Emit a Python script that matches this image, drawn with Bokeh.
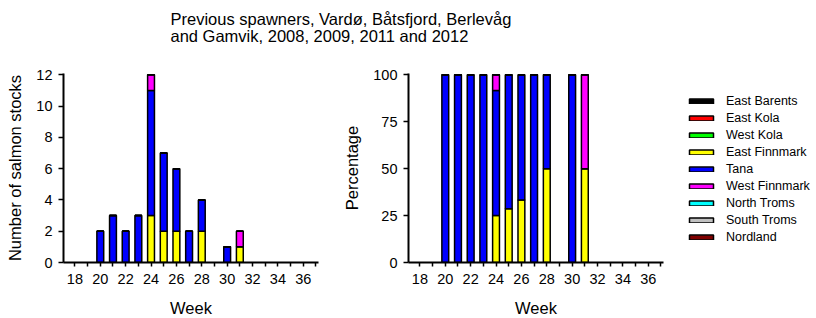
from bokeh.plotting import figure
from bokeh.models import FixedTicker, Label, Legend, LegendItem, Range1d, ColumnDataSource
from bokeh.layouts import column, row
from bokeh.embed import file_html
from bokeh.resources import INLINE

# ---- data ----
weeks = [20, 21, 22, 23, 24, 25, 26, 27, 28, 30, 31]
regions = ["East Barents", "East Kola", "West Kola", "East Finnmark", "Tana",
           "West Finnmark", "North Troms", "South Troms", "Nordland"]
colors = ["#000000", "#FF0000", "#00FF00", "#FFFF00", "#0000FF",
          "#FF00FF", "#00FFFF", "#C0C0C0", "#800000"]

east_barents = [0] * 11
east_kola = [0] * 11
west_kola = [0] * 11
east_finnmark = [0, 0, 0, 0, 3, 2, 2, 0, 2, 0, 1]
tana = [2, 3, 2, 3, 8, 5, 4, 2, 2, 1, 0]
west_finnmark = [0, 0, 0, 0, 1, 0, 0, 0, 0, 0, 1]
north_troms = [0] * 11
south_troms = [0] * 11
nordland = [0] * 11

east_finnmark_pct = [0, 0, 0, 0, 25, 28.6, 33.3, 0, 50, 0, 50]
tana_pct = [100, 100, 100, 100, 66.7, 71.4, 66.7, 100, 50, 100, 0]
west_finnmark_pct = [0, 0, 0, 0, 8.3, 0, 0, 0, 0, 0, 50]

count_series = [east_barents, east_kola, west_kola, east_finnmark, tana,
                west_finnmark, north_troms, south_troms, nordland]
pct_series = [east_barents, east_kola, west_kola, east_finnmark_pct, tana_pct,
              west_finnmark_pct, north_troms, south_troms, nordland]

x_ticks = list(range(18, 37, 2))
x_minor = list(range(19, 38, 2))
count_ticks = [0, 2, 4, 6, 8, 10, 12]
pct_ticks = [0, 25, 50, 75, 100]

title_lines = ["Previous spawners, Vardø, Båtsfjord, Berlevåg",
               "and Gamvik, 2008, 2009, 2011 and 2012"]

FONT = "Liberation Sans"
keys = ["r%d" % i for i in range(len(regions))]

TITLE_H = 45
TOP, FRAME_H, BOTTOM = 28, 189, 56


def make_fig(series, ymax, yticks, ylabel, border_left, border_right):
    p = figure(frame_width=255, frame_height=FRAME_H,
               x_range=Range1d(17.1, 37.2), y_range=Range1d(0, ymax),
               output_backend="svg", toolbar_location=None,
               min_border_left=border_left, min_border_right=border_right,
               min_border_top=TOP, min_border_bottom=BOTTOM)
    data = {"week": weeks}
    for k, s in zip(keys, series):
        data[k] = s
    src = ColumnDataSource(data)
    rends = p.vbar_stack(keys, x="week", width=0.54, source=src,
                         fill_color=colors, line_color="black", line_width=1.5)
    p.grid.visible = False
    p.outline_line_color = None
    for ax in (p.xaxis[0], p.yaxis[0]):
        ax.axis_line_width = 2
        ax.axis_line_color = "black"
        ax.major_tick_line_width = 1.5
        ax.minor_tick_line_width = 1.5
        ax.major_tick_line_color = "black"
        ax.minor_tick_line_color = "black"
        ax.major_tick_in = 0
        ax.minor_tick_in = 0
        ax.major_label_text_font = FONT
        ax.major_label_text_font_size = "14.5px"
        ax.major_label_text_color = "black"
        ax.axis_label_text_font = FONT
        ax.axis_label_text_font_size = "16.5px"
        ax.axis_label_text_font_style = "normal"
        ax.axis_label_text_color = "black"
    xa = p.xaxis[0]
    xa.ticker = FixedTicker(ticks=x_ticks, minor_ticks=x_minor)
    xa.major_tick_out = 4
    xa.minor_tick_out = 4
    xa.major_label_standoff = 7
    xa.axis_label = "Week"
    xa.axis_label_standoff = 12
    ya = p.yaxis[0]
    ya.ticker = FixedTicker(ticks=yticks)
    ya.major_tick_out = 5
    ya.minor_tick_out = 0
    ya.major_label_standoff = 6
    ya.axis_label = ylabel
    ya.axis_label_standoff = 9
    return p, rends


left, _ = make_fig(count_series, 12.08, count_ticks, "Number of salmon stocks", 63, 22)
right, rends = make_fig(pct_series, 100.7, pct_ticks, "Percentage", 68, 146)

legend = Legend(items=[LegendItem(label=n, renderers=[r]) for n, r in zip(regions, rends)],
                location=(23, 18), glyph_width=30, glyph_height=6,
                label_standoff=10, label_height=13, spacing=3, padding=0, margin=0,
                label_text_font=FONT, label_text_font_size="12.5px",
                label_text_color="black",
                background_fill_alpha=0, border_line_color=None)
right.add_layout(legend, "right")

TOTAL_W = 63 + 255 + 22 + 68 + 255 + 146
title_fig = figure(width=TOTAL_W, height=TITLE_H, x_axis_type=None, y_axis_type=None,
                   min_border=0, outline_line_color=None, toolbar_location=None,
                   output_backend="svg", x_range=Range1d(0, TOTAL_W),
                   y_range=Range1d(0, TITLE_H))
title_fig.grid.visible = False
for txt, yy in zip(title_lines, [26.7, 10]):
    title_fig.add_layout(Label(x=170, y=yy, text=txt, text_font=FONT,
                               text_font_size="16.5px", text_align="left",
                               text_baseline="middle", text_color="black"))

layout = column(title_fig, row(left, right))
open("out.html", "w").write(file_html(layout, INLINE))
